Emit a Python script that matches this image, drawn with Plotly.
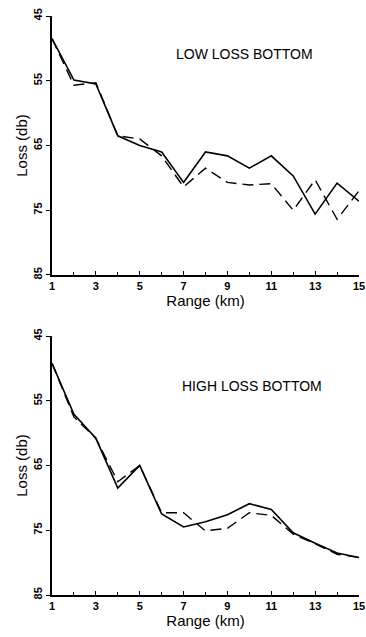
import plotly.graph_objects as go
from plotly.subplots import make_subplots

range_km = [1, 2, 3, 4, 5, 6, 7, 8, 9, 10, 11, 12, 13, 14, 15]

low_solid = [48.5, 54.9, 55.5, 63.5, 65.0, 66.0, 70.7, 66.0, 66.6, 68.5, 66.6, 69.7, 75.6, 70.8, 73.6]
low_dashed = [48.5, 55.7, 55.3, 63.5, 64.0, 66.6, 71.4, 68.5, 70.7, 71.1, 70.9, 75.0, 70.3, 76.4, 72.0]

high_solid = [49.2, 57.1, 60.8, 68.5, 65.0, 72.5, 74.5, 73.7, 72.6, 70.9, 71.8, 75.4, 77.0, 78.5, 79.2]
high_dashed = [49.2, 57.5, 60.8, 67.5, 65.0, 72.3, 72.3, 75.1, 74.7, 72.3, 72.7, 75.6, 77.1, 78.7, 79.2]

y_ticks = [45, 55, 65, 75, 85]
x_ticks = [1, 3, 5, 7, 9, 11, 13, 15]

panel_titles = ["LOW LOSS BOTTOM", "HIGH LOSS BOTTOM"]

fig = make_subplots(rows=2, cols=1, vertical_spacing=0.105)

FONT = "Liberation Sans, Arial, sans-serif"

for row, (s, d) in enumerate([(low_solid, low_dashed), (high_solid, high_dashed)], start=1):
    fig.add_trace(go.Scatter(x=range_km, y=s, mode="lines",
                             line=dict(color="black", width=1.6), showlegend=False), row=row, col=1)
    fig.add_trace(go.Scatter(x=range_km, y=d, mode="lines",
                             line=dict(color="black", width=1.4, dash="11px,6px"), showlegend=False), row=row, col=1)
    fig.update_xaxes(range=[1, 15], tickvals=x_ticks,
                     ticktext=["<b>%d</b>" % v for v in x_ticks],
                     ticks="inside", ticklen=4, tickwidth=1.2, tickcolor="black",
                     minor=dict(dtick=1, ticks="inside", ticklen=3, tickcolor="black"),
                     showline=True, linecolor="black", linewidth=2, showgrid=False, zeroline=False,
                     tickfont=dict(family=FONT, size=11, color="black"), automargin=False,
                     ticklabeloverflow="allow",
                     title=dict(text="Range (km)", font=dict(family=FONT, size=15, color="black"), standoff=0),
                     row=row, col=1)
    fig.update_yaxes(range=[85, 45], tickvals=y_ticks,
                     ticktext=["<b>%d</b>" % v for v in y_ticks],
                     ticks="outside", ticklen=4, tickwidth=1.2, tickcolor="black", tickangle=-90,
                     showline=True, linecolor="black", linewidth=2, showgrid=False, zeroline=False,
                     tickfont=dict(family=FONT, size=11, color="black"), automargin=False,
                     title=dict(text="Loss (db)", font=dict(family=FONT, size=15, color="black"), standoff=0),
                     row=row, col=1)

fig.update_layout(
    width=366, height=637,
    margin=dict(l=52, r=7, t=16, b=42),
    plot_bgcolor="white", paper_bgcolor="white",
)
fig.update_yaxes(domain=[0.5527, 1.0], row=1, col=1)
fig.update_yaxes(domain=[0.0, 0.4473], row=2, col=1)

fig.add_annotation(x=9.8, y=50.9, xref="x", yref="y", text=panel_titles[0], showarrow=False,
                   font=dict(family=FONT, size=14, color="black"))
fig.add_annotation(x=10.1, y=52.7, xref="x2", yref="y2", text=panel_titles[1], showarrow=False,
                   font=dict(family=FONT, size=14, color="black"))

# remove the default 8px page margin so the 366x637 figure fills the window exactly
fig.write_html("out.html",
               config={"displayModeBar": False},
               post_script="document.body.style.margin='0';document.body.style.overflow='hidden';")
